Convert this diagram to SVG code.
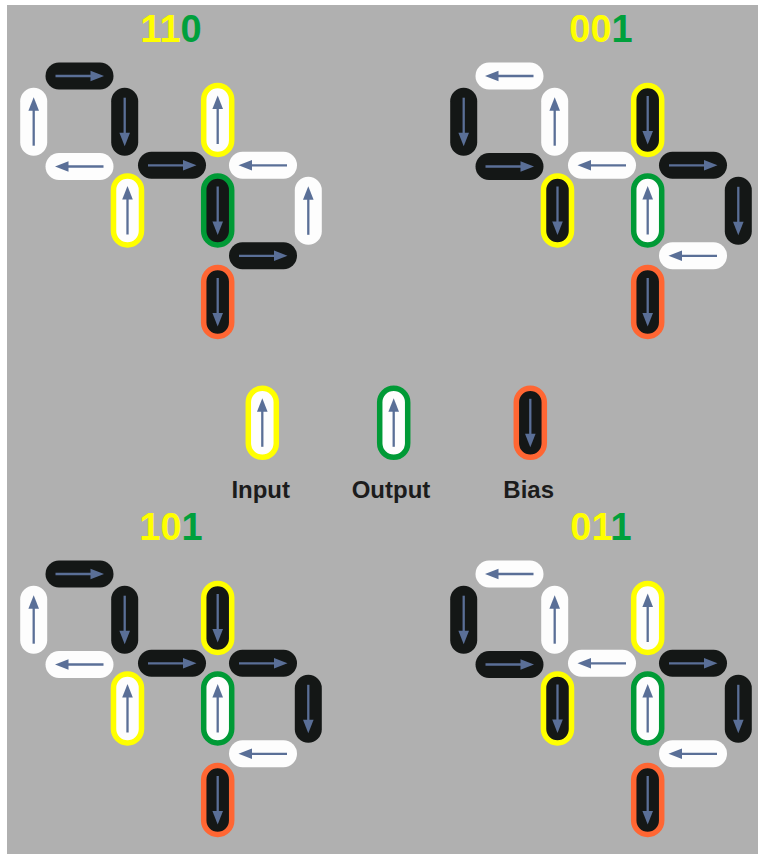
<svg xmlns="http://www.w3.org/2000/svg" width="758" height="854" viewBox="0 0 758 854">
<style>
.bg{fill:#b0b0b0}
.k{fill:#141716}
.w{fill:#fdfdfd}
.in{stroke:#ffff00;stroke-width:5.5}
.out{stroke:#009a36;stroke-width:5.5}
.bias{stroke:#ff6633;stroke-width:5.5}
.arr line{stroke:#5a6f97;stroke-width:2.3}
.arr polygon{fill:#5a6f97}
.title{font-family:"Liberation Sans",Arial,sans-serif;font-weight:bold;font-size:38px;text-anchor:middle}
.y{fill:#ffff00}
.g{fill:#00a03c}
.lbl{font-family:"Liberation Sans",Arial,sans-serif;font-weight:bold;font-size:24px;text-anchor:middle;fill:#1c1c1c}
</style>
<defs>
<g id="aR" class="arr"><line x1="-24" y1="0" x2="12" y2="0"/><polygon points="24.5,0 11,-5.3 11,5.3"/></g>
<rect id="ph" x="-34" y="-13.5" width="68" height="27" rx="13.5"/>
<rect id="pv" x="-13.5" y="-34" width="27" height="68" rx="13.5"/>
<rect id="pb" x="-14" y="-34.5" width="28" height="69" rx="14"/>
</defs>
<rect class="bg" x="7" y="5" width="751" height="849"/>

<!-- Panel 1: 110 -->
<g id="panel110">
<text class="title" x="171" y="41.7"><tspan class="y">11</tspan><tspan class="g">0</tspan></text>
<g id="p1n1" transform="translate(79.5,76)"><use href="#ph" class="k"/><use href="#aR"/></g>
<g id="p1n2" transform="translate(33.7,121.7)"><use href="#pv" class="w"/><use href="#aR" transform="rotate(-90)"/></g>
<g id="p1n3" transform="translate(124.7,121.7)"><use href="#pv" class="k"/><use href="#aR" transform="rotate(90)"/></g>
<g id="p1n4" transform="translate(79.5,166.5)"><use href="#ph" class="w"/><use href="#aR" transform="rotate(180)"/></g>
<g id="p1n5" transform="translate(127.5,210.5)"><use href="#pb" class="w in"/><use href="#aR" transform="rotate(-90)"/></g>
<g id="p1n6" transform="translate(172,165.3)"><use href="#ph" class="k"/><use href="#aR"/></g>
<g id="p1n7" transform="translate(217.7,120)"><use href="#pb" class="w in"/><use href="#aR" transform="rotate(-90)"/></g>
<g id="p1n8" transform="translate(263,165.3)"><use href="#ph" class="w"/><use href="#aR" transform="rotate(180)"/></g>
<g id="p1n9" transform="translate(217.7,210.5)"><use href="#pb" class="k out"/><use href="#aR" transform="rotate(90)"/></g>
<g id="p1n10" transform="translate(308.3,210.8)"><use href="#pv" class="w"/><use href="#aR" transform="rotate(-90)"/></g>
<g id="p1n11" transform="translate(263,255.8)"><use href="#ph" class="k"/><use href="#aR"/></g>
<g id="p1n12" transform="translate(217.7,302)"><use href="#pb" class="k bias"/><use href="#aR" transform="rotate(90)"/></g>
</g>

<!-- Panel 2: 001 -->
<g id="panel001" transform="translate(430,0)">
<text class="title" x="171" y="41.7"><tspan class="y">00</tspan><tspan class="g">1</tspan></text>
<g id="p2n1" transform="translate(79.5,76)"><use href="#ph" class="w"/><use href="#aR" transform="rotate(180)"/></g>
<g id="p2n2" transform="translate(33.7,121.7)"><use href="#pv" class="k"/><use href="#aR" transform="rotate(90)"/></g>
<g id="p2n3" transform="translate(124.7,121.7)"><use href="#pv" class="w"/><use href="#aR" transform="rotate(-90)"/></g>
<g id="p2n4" transform="translate(79.5,166.5)"><use href="#ph" class="k"/><use href="#aR"/></g>
<g id="p2n5" transform="translate(127.5,210.5)"><use href="#pb" class="k in"/><use href="#aR" transform="rotate(90)"/></g>
<g id="p2n6" transform="translate(172,165.3)"><use href="#ph" class="w"/><use href="#aR" transform="rotate(180)"/></g>
<g id="p2n7" transform="translate(217.7,120)"><use href="#pb" class="k in"/><use href="#aR" transform="rotate(90)"/></g>
<g id="p2n8" transform="translate(263,165.3)"><use href="#ph" class="k"/><use href="#aR"/></g>
<g id="p2n9" transform="translate(217.7,210.5)"><use href="#pb" class="w out"/><use href="#aR" transform="rotate(-90)"/></g>
<g id="p2n10" transform="translate(308.3,210.8)"><use href="#pv" class="k"/><use href="#aR" transform="rotate(90)"/></g>
<g id="p2n11" transform="translate(263,255.8)"><use href="#ph" class="w"/><use href="#aR" transform="rotate(180)"/></g>
<g id="p2n12" transform="translate(217.7,302)"><use href="#pb" class="k bias"/><use href="#aR" transform="rotate(90)"/></g>
</g>

<!-- Legend -->
<g id="legend-input" transform="translate(262.3,422.8)"><use href="#pb" class="w in"/><use href="#aR" transform="rotate(-90)"/></g>
<g id="legend-output" transform="translate(393.7,422.8)"><use href="#pb" class="w out"/><use href="#aR" transform="rotate(-90)"/></g>
<g id="legend-bias" transform="translate(530.3,422.8)"><use href="#pb" class="k bias"/><use href="#aR" transform="rotate(90)"/></g>
<g id="legend-labels">
<text class="lbl" x="260.7" y="498.3">Input</text>
<text class="lbl" x="391" y="498.3">Output</text>
<text class="lbl" x="528.7" y="498.3">Bias</text>
</g>

<!-- Panel 3: 101 -->
<g id="panel101" transform="translate(0,498)">
<text class="title" x="171" y="41.7"><tspan class="y">10</tspan><tspan class="g">1</tspan></text>
<g id="p3n1" transform="translate(79.5,76)"><use href="#ph" class="k"/><use href="#aR"/></g>
<g id="p3n2" transform="translate(33.7,121.7)"><use href="#pv" class="w"/><use href="#aR" transform="rotate(-90)"/></g>
<g id="p3n3" transform="translate(124.7,121.7)"><use href="#pv" class="k"/><use href="#aR" transform="rotate(90)"/></g>
<g id="p3n4" transform="translate(79.5,166.5)"><use href="#ph" class="w"/><use href="#aR" transform="rotate(180)"/></g>
<g id="p3n5" transform="translate(127.5,210.5)"><use href="#pb" class="w in"/><use href="#aR" transform="rotate(-90)"/></g>
<g id="p3n6" transform="translate(172,165.3)"><use href="#ph" class="k"/><use href="#aR"/></g>
<g id="p3n7" transform="translate(217.7,120)"><use href="#pb" class="k in"/><use href="#aR" transform="rotate(90)"/></g>
<g id="p3n8" transform="translate(263,165.3)"><use href="#ph" class="k"/><use href="#aR"/></g>
<g id="p3n9" transform="translate(217.7,210.5)"><use href="#pb" class="w out"/><use href="#aR" transform="rotate(-90)"/></g>
<g id="p3n10" transform="translate(308.3,210.8)"><use href="#pv" class="k"/><use href="#aR" transform="rotate(90)"/></g>
<g id="p3n11" transform="translate(263,255.8)"><use href="#ph" class="w"/><use href="#aR" transform="rotate(180)"/></g>
<g id="p3n12" transform="translate(217.7,302)"><use href="#pb" class="k bias"/><use href="#aR" transform="rotate(90)"/></g>
</g>

<!-- Panel 4: 011 -->
<g id="panel011" transform="translate(430,498)">
<text class="title" x="171" y="41.7"><tspan class="y">01</tspan><tspan class="g">1</tspan></text>
<g id="p4n1" transform="translate(79.5,76)"><use href="#ph" class="w"/><use href="#aR" transform="rotate(180)"/></g>
<g id="p4n2" transform="translate(33.7,121.7)"><use href="#pv" class="k"/><use href="#aR" transform="rotate(90)"/></g>
<g id="p4n3" transform="translate(124.7,121.7)"><use href="#pv" class="w"/><use href="#aR" transform="rotate(-90)"/></g>
<g id="p4n4" transform="translate(79.5,166.5)"><use href="#ph" class="k"/><use href="#aR"/></g>
<g id="p4n5" transform="translate(127.5,210.5)"><use href="#pb" class="k in"/><use href="#aR" transform="rotate(90)"/></g>
<g id="p4n6" transform="translate(172,165.3)"><use href="#ph" class="w"/><use href="#aR" transform="rotate(180)"/></g>
<g id="p4n7" transform="translate(217.7,120)"><use href="#pb" class="w in"/><use href="#aR" transform="rotate(-90)"/></g>
<g id="p4n8" transform="translate(263,165.3)"><use href="#ph" class="k"/><use href="#aR"/></g>
<g id="p4n9" transform="translate(217.7,210.5)"><use href="#pb" class="w out"/><use href="#aR" transform="rotate(-90)"/></g>
<g id="p4n10" transform="translate(308.3,210.8)"><use href="#pv" class="k"/><use href="#aR" transform="rotate(90)"/></g>
<g id="p4n11" transform="translate(263,255.8)"><use href="#ph" class="w"/><use href="#aR" transform="rotate(180)"/></g>
<g id="p4n12" transform="translate(217.7,302)"><use href="#pb" class="k bias"/><use href="#aR" transform="rotate(90)"/></g>
</g>

<g id="connectors"/>
</svg>
